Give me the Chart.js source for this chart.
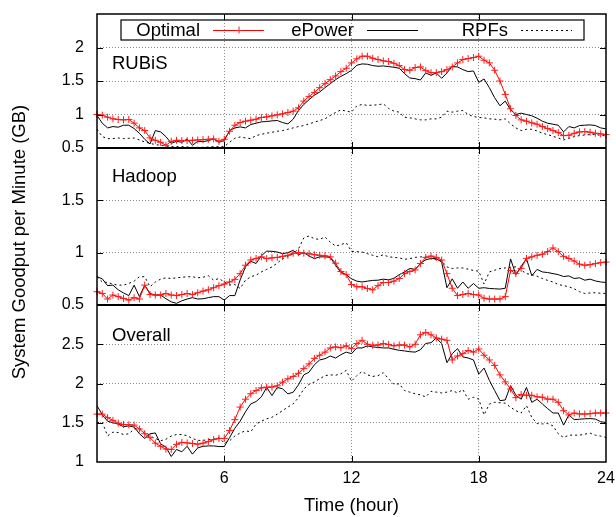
<!DOCTYPE html>
<html><head><meta charset="utf-8">
<script src="https://cdn.jsdelivr.net/npm/chart.js@4.4.1/dist/chart.umd.min.js"></script>
<style>html,body{margin:0;padding:0;background:#fff;}#wrap{width:616px;height:517px;position:relative;}</style>
</head><body><div id="wrap"><canvas id="c" width="616" height="517"></canvas></div>
<script>
// ---------- data ----------
const hours = Array.from({length: 97}, (_, i) => i * 0.25);   // 15-minute samples, 0..24 h
const xTickValues = [6, 12, 18, 24];
const seriesNames = ['Optimal', 'ePower', 'RPFs'];
const panelNames = ['RUBiS', 'Hadoop', 'Overall'];
const yTitle = 'System Goodput per Minute (GB)';
const xTitle = 'Time (hour)';

const rubisOptimal = [
1.00,0.99,0.96,0.935, 0.925,0.92,0.925,0.87, 0.80,0.76,0.65,0.615, 0.585,0.54,0.60,0.615,
0.61,0.61,0.615,0.62, 0.625,0.63,0.635,0.60, 0.63,0.75,0.84,0.88, 0.90,0.915,0.93,0.955,
0.965,0.98,0.995,1.01, 1.03,1.05,1.10,1.20, 1.27,1.33,1.40,1.46, 1.52,1.575,1.64,1.69,
1.77,1.83,1.87,1.87, 1.84,1.82,1.80,1.79, 1.765,1.73,1.67,1.66, 1.70,1.71,1.655,1.625,
1.625,1.64,1.67,1.71, 1.77,1.82,1.835,1.85, 1.87,1.81,1.77,1.66, 1.50,1.30,1.085,0.985,
0.92,0.90,0.875,0.855, 0.82,0.79,0.76,0.73, 0.685,0.69,0.72,0.74, 0.745,0.735,0.72,0.71,
0.70];
const rubisEPower = [
0.985,0.87,0.80,0.82, 0.81,0.84,0.84,0.79, 0.72,0.63,0.56,0.76, 0.74,0.67,0.57,0.60,
0.585,0.635,0.54,0.60, 0.595,0.61,0.635,0.585, 0.61,0.76,0.80,0.815, 0.80,0.85,0.87,0.89,
0.895,0.905,0.91,0.88, 0.86,0.93,1.06,1.15, 1.22,1.29,1.335,1.40, 1.46,1.52,1.57,1.61,
1.66,1.735,1.755,1.75, 1.73,1.72,1.725,1.715, 1.705,1.69,1.61,1.545, 1.535,1.515,1.62,1.585,
1.62,1.54,1.62,1.72, 1.71,1.67,1.64,1.65, 1.48,1.53,1.40,1.25, 1.13,1.20,1.07,1.00,
1.02,1.00,0.98,0.945, 0.90,0.87,0.855,0.84, 0.74,0.82,0.80,0.835, 0.84,0.845,0.835,0.80,
0.785];
const rubisRPFs = [
0.78,0.67,0.64,0.64, 0.65,0.64,0.645,0.65, 0.62,0.59,0.57,0.55, 0.54,0.53,0.52,0.52,
0.52,0.515,0.51,0.51, 0.51,0.515,0.52,0.52, 0.52,0.585,0.645,0.665, 0.65,0.64,0.685,0.705,
0.72,0.735,0.75,0.76, 0.78,0.80,0.82,0.835, 0.86,0.885,0.91,0.935, 0.985,1.03,1.07,1.05,
1.035,1.13,1.15,1.135, 1.14,1.145,1.16,1.09, 1.05,1.035,0.96,0.95, 0.935,0.92,0.92,0.935,
0.935,0.96,1.05,1.035, 1.05,1.06,1.00,0.97, 0.955,0.95,0.935,0.93, 0.92,0.935,0.86,0.80,
0.76,0.78,0.78,0.755, 0.72,0.70,0.675,0.65, 0.62,0.645,0.67,0.685, 0.695,0.70,0.70,0.69,
0.68];

const hadoopOptimal = [
0.627,0.61,0.557,0.595, 0.58,0.563,0.547,0.57, 0.557,0.69,0.60,0.595, 0.595,0.61,0.595,0.59,
0.60,0.61,0.60,0.617, 0.633,0.645,0.665,0.685, 0.70,0.72,0.745,0.80, 0.88,0.93,0.945,0.96,
0.943,0.95,0.955,0.965, 0.975,0.995,1.0,0.995, 0.99,0.98,0.975,0.97, 0.96,0.90,0.82,0.79,
0.696,0.674,0.674,0.658, 0.645,0.685,0.715,0.715, 0.728,0.753,0.80,0.82, 0.835,0.896,0.955,0.968,
0.955,0.93,0.80,0.66, 0.59,0.60,0.61,0.60, 0.595,0.565,0.557,0.557, 0.557,0.58,0.83,0.80,
0.85,0.945,0.96,0.975, 0.985,1.01,1.045,1.01, 0.965,0.945,0.92,0.89, 0.88,0.885,0.895,0.905,
0.91];
const hadoopEPower = [
0.77,0.75,0.685,0.69, 0.645,0.615,0.59,0.69, 0.58,0.69,0.61,0.595, 0.595,0.56,0.53,0.516,
0.54,0.557,0.57,0.557, 0.56,0.57,0.58,0.58, 0.547,0.59,0.59,0.74, 0.864,0.918,0.896,0.97,
1.015,1.013,1.006,0.99, 1.0,1.022,0.98,1.0, 0.968,0.943,0.96,0.96, 0.955,0.88,0.81,0.79,
0.75,0.728,0.72,0.728, 0.735,0.737,0.747,0.74, 0.755,0.79,0.816,0.85, 0.84,0.896,0.934,0.943,
0.943,0.91,0.665,0.75, 0.66,0.72,0.66,0.705, 0.66,0.665,0.658,0.655, 0.652,0.66,0.94,0.79,
0.87,0.943,0.78,0.84, 0.816,0.81,0.80,0.79, 0.772,0.778,0.753,0.76, 0.737,0.747,0.73,0.72,
0.715];
const hadoopRPFs = [
0.77,0.72,0.715,0.70, 0.69,0.69,0.706,0.728, 0.77,0.77,0.674,0.72, 0.747,0.76,0.753,0.76,
0.765,0.77,0.77,0.76, 0.765,0.78,0.737,0.753, 0.72,0.69,0.696,0.658, 0.737,0.77,0.785,0.816,
0.84,0.864,0.90,0.943, 0.965,0.99,1.035,1.14, 1.16,1.133,1.127,1.15, 1.10,1.063,1.076,1.095,
1.013,1.01,1.006,0.99, 0.975,0.96,0.98,0.96, 0.955,0.95,0.937,0.943, 0.955,0.96,0.96,0.943,
0.935,0.92,0.864,0.848, 0.854,0.854,0.842,0.83, 0.823,0.70,0.816,0.832, 0.848,0.854,0.86,0.864,
0.832,0.80,0.79,0.775, 0.753,0.735,0.72,0.696, 0.685,0.674,0.655,0.627, 0.61,0.615,0.617,0.612,
0.61];

const overallOptimal = [
1.61,1.61,1.565,1.53, 1.495,1.478,1.474,1.47, 1.42,1.36,1.31,1.24, 1.20,1.165,1.16,1.225,
1.25,1.243,1.235,1.227, 1.24,1.26,1.285,1.30, 1.30,1.40,1.54,1.70, 1.80,1.87,1.91,1.945,
1.953,1.955,1.97,2.017, 2.06,2.09,2.13,2.19, 2.25,2.32,2.36,2.40, 2.453,2.466,2.455,2.48,
2.444,2.508,2.55,2.50, 2.487,2.49,2.508,2.496, 2.48,2.49,2.49,2.466, 2.50,2.62,2.65,2.62,
2.58,2.565,2.55,2.30, 2.35,2.38,2.42,2.40, 2.44,2.36,2.30,2.23, 2.11,2.02,1.93,1.82,
1.86,1.85,1.85,1.83, 1.825,1.80,1.80,1.76, 1.654,1.60,1.624,1.612, 1.611,1.615,1.624,1.624,
1.624];
const overallEPower = [
1.718,1.60,1.52,1.50, 1.483,1.45,1.46,1.445, 1.36,1.30,1.36,1.37, 1.23,1.19,1.07,1.16,
1.13,1.20,1.10,1.18, 1.20,1.205,1.205,1.197, 1.197,1.31,1.43,1.52, 1.64,1.74,1.77,1.83,
1.95,1.846,1.95,1.932, 1.868,1.889,1.983,2.11, 2.145,2.239,2.30,2.316, 2.35,2.325,2.367,2.40,
2.38,2.453,2.453,2.479, 2.466,2.46,2.453,2.453, 2.436,2.423,2.415,2.405, 2.40,2.43,2.51,2.52,
2.58,2.508,2.265,2.38, 2.444,2.338,2.325,2.30, 2.12,2.197,2.04,1.91, 1.782,1.79,1.974,1.85,
1.80,1.95,1.76,1.80, 1.74,1.68,1.624,1.624, 1.47,1.60,1.54,1.545, 1.55,1.553,1.547,1.513,
1.504];
const overallRPFs = [
1.504,1.504,1.333,1.38, 1.376,1.35,1.36,1.42, 1.43,1.385,1.33,1.30, 1.27,1.29,1.33,1.35,
1.35,1.335,1.30,1.275, 1.275,1.285,1.29,1.312, 1.24,1.27,1.33,1.37, 1.397,1.385,1.483,1.52,
1.55,1.57,1.61,1.654, 1.70,1.74,1.82,1.93, 1.99,2.02,2.06,2.10, 2.11,2.105,2.124,2.167,
2.03,2.10,2.154,2.111, 2.09,2.10,2.137,2.06, 1.99,1.996,1.91,1.89, 1.87,1.855,1.83,1.90,
1.89,1.88,1.89,1.91, 1.88,1.923,1.80,1.825, 1.80,1.60,1.739,1.761, 1.755,1.75,1.697,1.654,
1.624,1.718,1.568,1.49, 1.485,1.49,1.46,1.36, 1.312,1.342,1.342,1.342, 1.355,1.368,1.342,1.33,
1.312];

// ---------- config ----------
const FONT = "'Liberation Sans', Arial, Helvetica, sans-serif";
const panels = [
  {id: 'yR', min: 0.5, max: 2.5, weight: 134, series: [rubisOptimal, rubisEPower, rubisRPFs], labelOffset: 55},
  {id: 'yH', min: 0.5, max: 2.0, weight: 157, series: [hadoopOptimal, hadoopEPower, hadoopRPFs], labelOffset: 34},
  {id: 'yO', min: 1.0, max: 3.0, weight: 157, series: [overallOptimal, overallEPower, overallRPFs], labelOffset: 35.5}
];
const seriesStyles = [
  {borderColor: '#ff0000', borderWidth: 1, borderDash: [], pointStyle: 'cross', pointRadius: 3.5, pointBorderColor: '#ff1a1a', pointBorderWidth: 1},
  {borderColor: '#000000', borderWidth: 1, borderDash: [], pointRadius: 0},
  {borderColor: '#000000', borderWidth: 1, borderDash: [2, 3], pointRadius: 0}
];

const datasets = [];
seriesNames.forEach((name, s) => {
  panels.forEach(p => {
    datasets.push(Object.assign({
      label: name,
      yAxisID: p.id,
      xAxisID: 'x',
      data: hours.map((h, i) => ({x: h, y: p.series[s][i]})),
      fill: false,
      tension: 0,
      pointHoverRadius: 0,
      clip: false
    }, seriesStyles[s]));
  });
});

const GRID = '#8c8c8c';
function zeroPad(sc) { sc.paddingTop = 0; sc.paddingBottom = 0; sc.paddingLeft = 0; sc.paddingRight = 0; }
function yScale(p) {
  return {
    type: 'linear', position: 'left', stack: 'panels', stackWeight: p.weight,
    min: p.min, max: p.max,
    afterBuildTicks: sc => {
      const t = [];
      for (let v = p.min; v <= p.max + 1e-9; v += 0.5) t.push({value: Math.round(v * 10) / 10});
      sc.ticks = t;
    },
    ticks: {padding: 13, color: '#000', font: {family: FONT, size: 16}, autoSkip: false,
      callback: v => (v >= p.max - 1e-9 ? '' : String(v))},
    grid: {drawTicks: false, lineWidth: 1,
      color: c => (c.tick && (c.tick.value <= p.min + 1e-9 || c.tick.value >= p.max - 1e-9)) ? 'rgba(0,0,0,0)' : GRID},
    border: {display: false, dash: [1, 2]},
    afterFit: sc => { sc.width = 97; zeroPad(sc); }
  };
}

const scales = {
  x: {
    type: 'linear', position: 'bottom', min: 0, max: 24,
    afterBuildTicks: sc => { sc.ticks = [0].concat(xTickValues).map(v => ({value: v})); },
    ticks: {padding: 7, color: '#000', font: {family: FONT, size: 16}, maxRotation: 0, autoSkip: false,
      callback: v => (v === 0 ? '' : String(v))},
    grid: {drawTicks: false, lineWidth: 1,
      color: c => (c.tick && (c.tick.value === 0 || c.tick.value === 24)) ? 'rgba(0,0,0,0)' : GRID},
    border: {display: false, dash: [1, 2]},
    title: {display: true, text: xTitle, color: '#000', font: {family: FONT, size: 18.5}, padding: {top: 0, bottom: 0}},
    afterFit: sc => { sc.height = 55; zeroPad(sc); }
  }
};
// last defined stacked axis is placed on top
scales.yO = yScale(panels[2]);
scales.yH = yScale(panels[1]);
scales.yR = yScale(panels[0]);

const decorPlugin = {
  id: 'decor',
  afterDatasetsDraw(chart) {
    const {ctx, chartArea: a, scales: sc} = chart;
    ctx.save();
    ctx.setLineDash([]);
    ctx.strokeStyle = '#000';
    ctx.lineWidth = 1;
    ctx.beginPath();
    panels.forEach(p => {
      const s = sc[p.id];
      s.ticks.forEach(t => {
        if (t.value <= p.min + 1e-9 || t.value >= p.max - 1e-9) return;
        const y = Math.round(s.getPixelForValue(t.value)) + 0.5;
        ctx.moveTo(a.left, y); ctx.lineTo(a.left + 6, y);
        ctx.moveTo(a.right - 6, y); ctx.lineTo(a.right, y);
      });
      xTickValues.forEach(v => {
        if (v >= 24) return;
        const x = Math.round(sc.x.getPixelForValue(v)) + 0.5;
        ctx.moveTo(x, s.top); ctx.lineTo(x, s.top + 6);
        ctx.moveTo(x, s.bottom); ctx.lineTo(x, s.bottom - 6);
      });
    });
    ctx.stroke();
    ctx.lineWidth = 1.5;
    ctx.strokeRect(a.left, a.top, a.right - a.left, a.bottom - a.top);
    ctx.lineWidth = 2;
    ctx.beginPath();
    ['yH', 'yO'].forEach(id => {
      const y = sc[id].top;
      ctx.moveTo(a.left, y); ctx.lineTo(a.right, y);
    });
    ctx.stroke();
    ctx.restore();
  },
  afterDraw(chart) {
    const {ctx, chartArea: a, scales: sc} = chart;
    ctx.save();
    ctx.fillStyle = '#000';
    ctx.font = '18.5px ' + FONT;
    ctx.textBaseline = 'alphabetic';
    ctx.textAlign = 'left';
    panels.forEach((p, i) => {
      ctx.fillText(panelNames[i], a.left + 15, sc[p.id].top + p.labelOffset);
    });
    ctx.save();
    ctx.translate(20, 242);
    ctx.rotate(-Math.PI / 2);
    ctx.textAlign = 'center';
    ctx.textBaseline = 'middle';
    ctx.fillText(yTitle, 0, 0);
    ctx.restore();
    const bx1 = a.left + 24, bx2 = a.right - 22, by1 = a.top + 6, by2 = a.top + 26;
    ctx.strokeStyle = '#000';
    ctx.lineWidth = 1.2;
    ctx.setLineDash([]);
    ctx.strokeRect(bx1, by1, bx2 - bx1, by2 - by1);
    const cy = (by1 + by2) / 2;
    ctx.textAlign = 'right';
    ctx.textBaseline = 'middle';
    seriesNames.forEach((name, s) => {
      const st = seriesStyles[s];
      const tr = a.left + 103 + 154 * s;
      ctx.fillStyle = '#000';
      ctx.fillText(name, tr, cy + 1);
      const l1 = tr + 13, l2 = tr + 64;
      ctx.strokeStyle = st.borderColor;
      ctx.lineWidth = st.borderWidth;
      ctx.setLineDash(st.borderDash);
      ctx.beginPath(); ctx.moveTo(l1, cy + 0.5); ctx.lineTo(l2, cy + 0.5); ctx.stroke();
      ctx.setLineDash([]);
      if (st.pointStyle === 'cross') {
        const mx = (l1 + l2) / 2, r = st.pointRadius;
        ctx.strokeStyle = st.pointBorderColor;
        ctx.beginPath();
        ctx.moveTo(mx - r, cy + 0.5); ctx.lineTo(mx + r, cy + 0.5);
        ctx.moveTo(mx + 0.5, cy - r); ctx.lineTo(mx + 0.5, cy + r);
        ctx.stroke();
      }
    });
    ctx.restore();
  }
};

new Chart(document.getElementById('c'), {
  type: 'line',
  data: {datasets},
  options: {
    responsive: false,
    animation: false,
    devicePixelRatio: 1,
    layout: {padding: {top: 14, right: 10, bottom: 0, left: 0}},
    plugins: {legend: {display: false}, tooltip: {enabled: false}, title: {display: false}},
    scales
  },
  plugins: [decorPlugin]
});
</script></body></html>
